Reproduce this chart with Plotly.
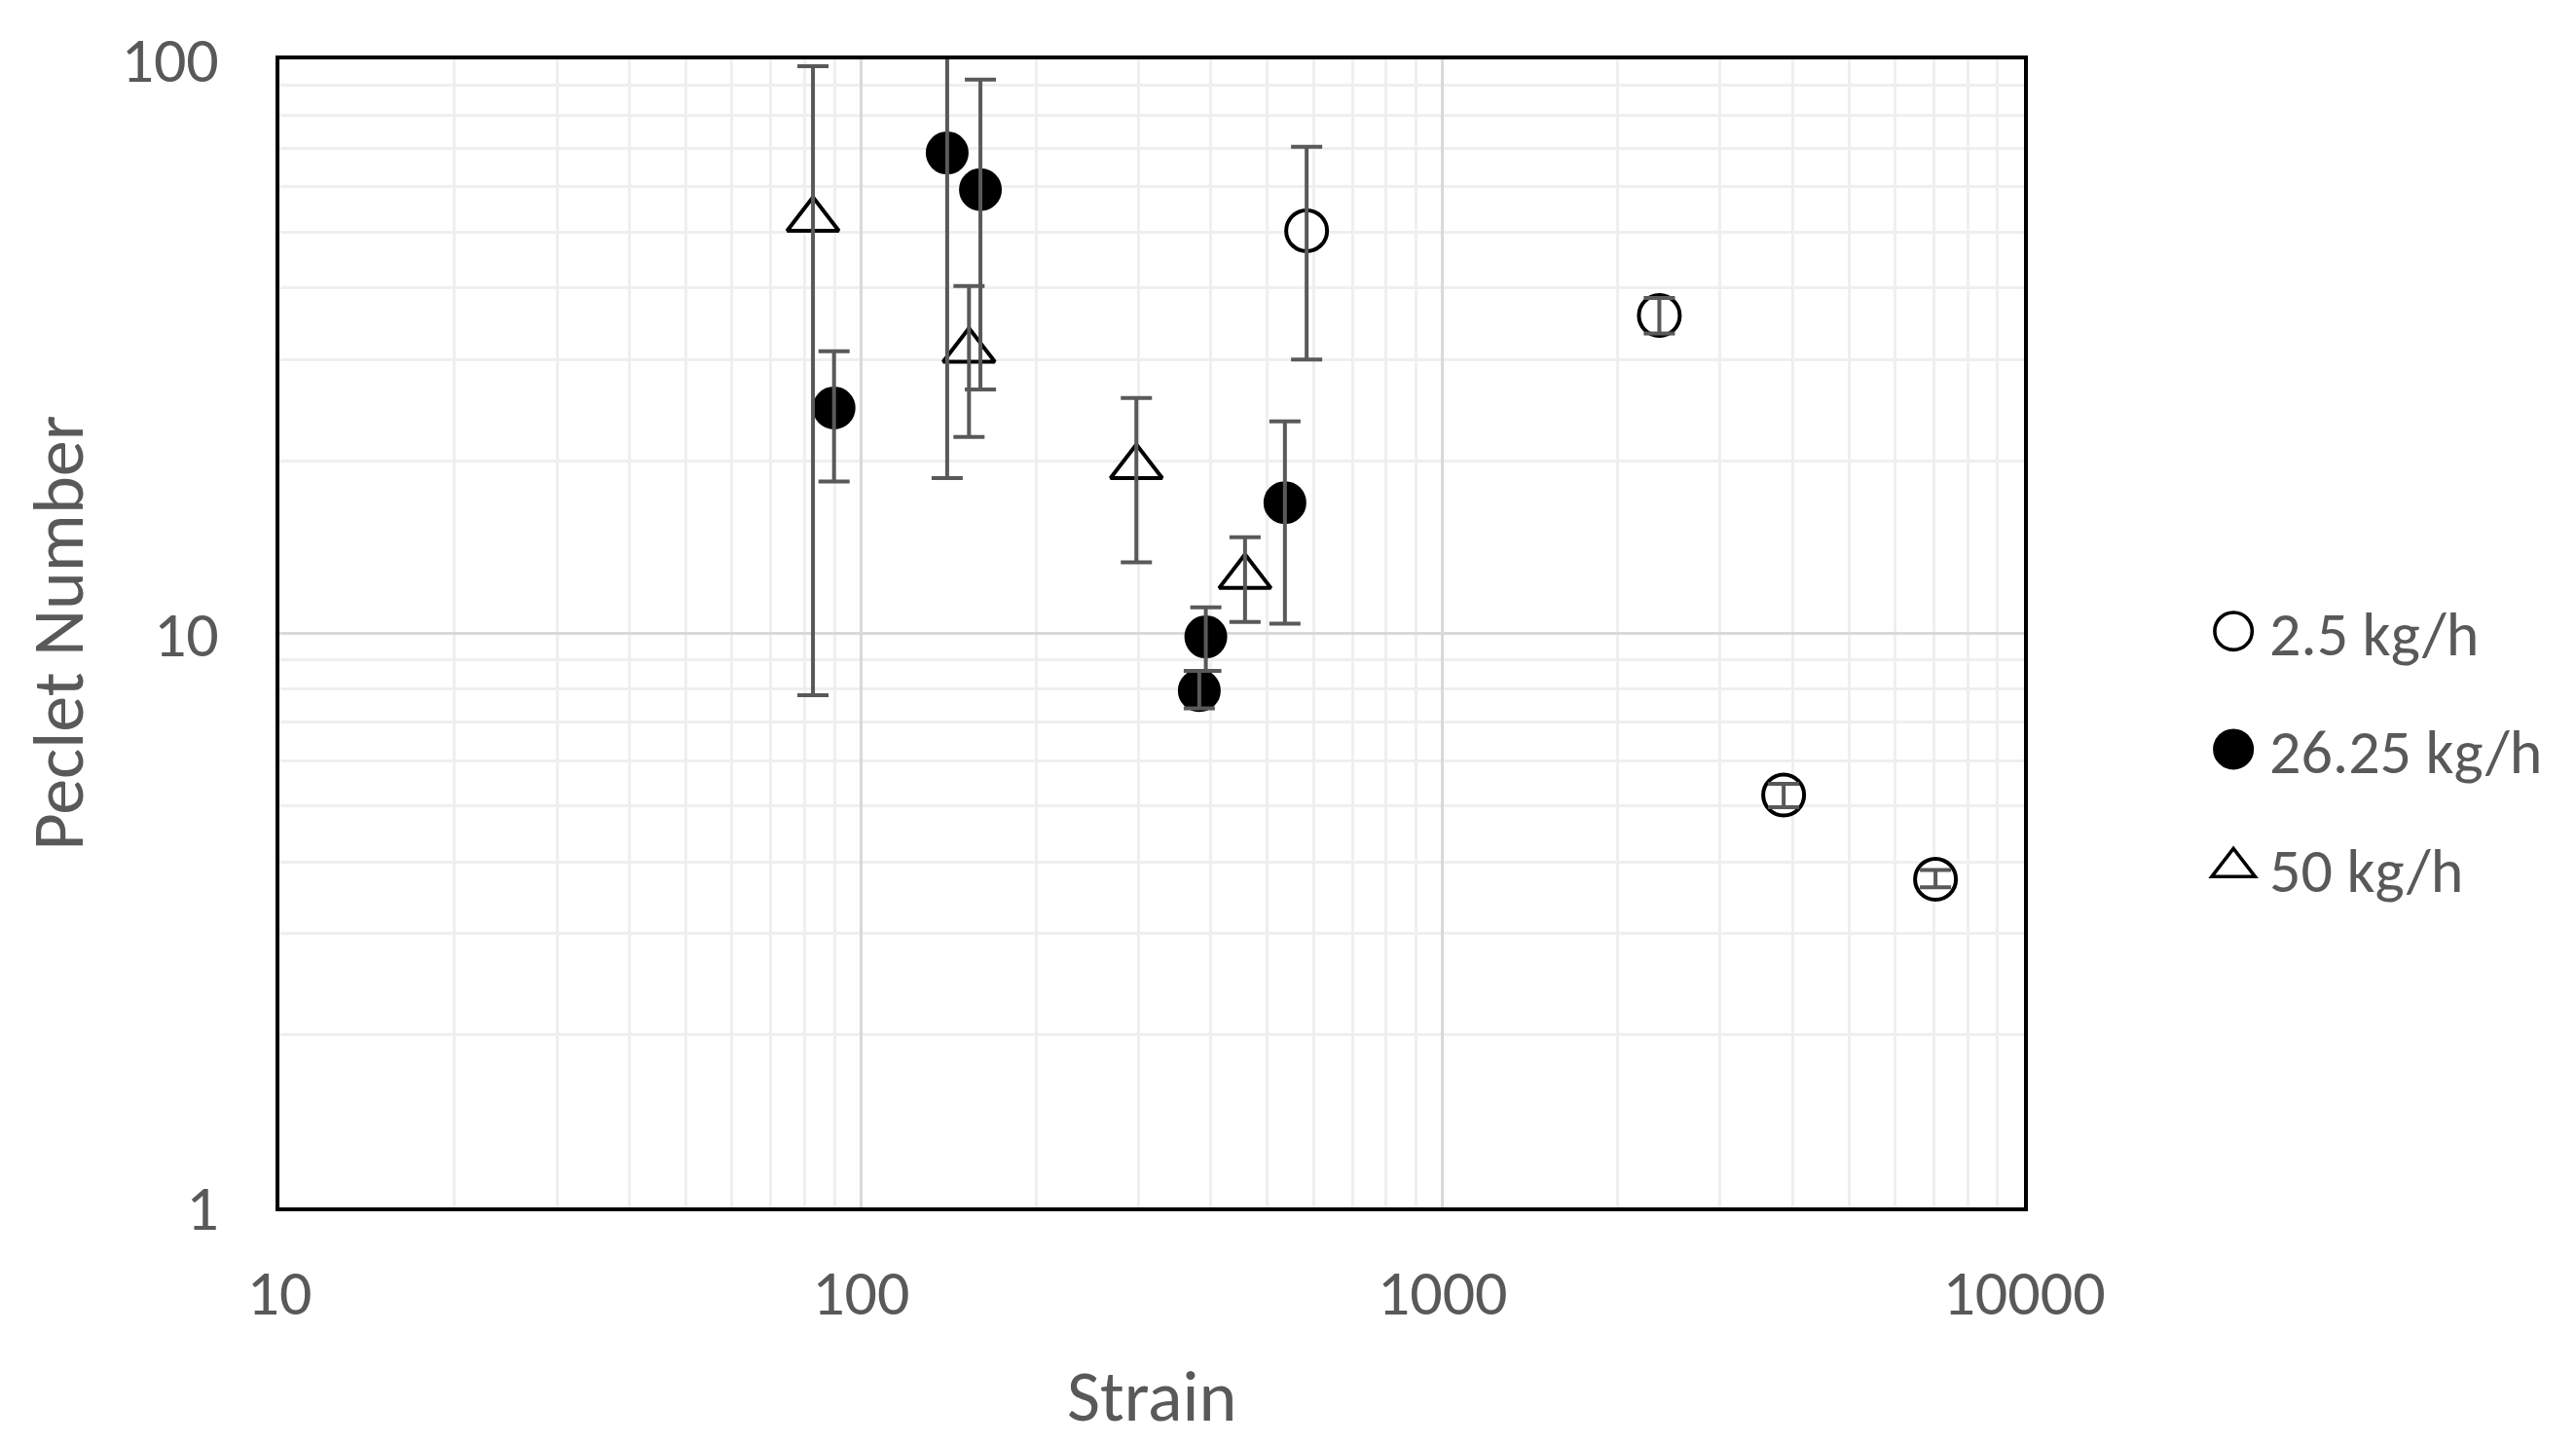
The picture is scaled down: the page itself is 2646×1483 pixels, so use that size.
import plotly.graph_objects as go

# ---- data ----
strain_25 = [584, 2360, 3861, 7044]
pe_25 = [50.3, 35.8, 5.23, 3.73]
pe_25_hi = [70.4, 38.4, 5.47, 3.87]
pe_25_lo = [30.0, 33.3, 4.98, 3.61]

strain_2625 = [89.9, 140.7, 160.5, 391.8, 381.8, 535.9]
pe_2625 = [24.7, 68.7, 59.3, 9.86, 7.95, 16.9]
pe_2625_hi = [31.0, 112.0, 92.2, 11.1, 8.6, 23.4]
pe_2625_lo = [18.4, 18.65, 26.6, 8.6, 7.40, 10.4]

strain_50 = [82.7, 153.4, 297.6, 457.6]
pe_50 = [52.6, 31.1, 19.5, 12.55]
pe_50_hi = [97.3, 40.3, 25.7, 14.7]
pe_50_lo = [7.8, 22.0, 13.3, 10.47]

series_names = ["2.5 kg/h", "26.25 kg/h", "50 kg/h"]
x_tickvals = [10, 100, 1000, 10000]
x_ticktext = ["10", "100", "1000", "10000"]
y_tickvals = [1, 10, 100]
y_ticktext = ["1", "10", "100"]

FONT = "Carlito, Lato, 'Open Sans', sans-serif"
GREY = "#595959"

series = [
    (series_names[0], strain_25, pe_25, pe_25_hi, pe_25_lo,
     dict(symbol="circle", size=42, color="white", line=dict(color="black", width=4))),
    (series_names[1], strain_2625, pe_2625, pe_2625_hi, pe_2625_lo,
     dict(symbol="circle", size=41, color="black", line=dict(color="black", width=3))),
    (series_names[2], strain_50, pe_50, pe_50_hi, pe_50_lo,
     dict(symbol="triangle-up", size=46, color="white", line=dict(color="black", width=4))),
]

fig = go.Figure()
for i, (name, xs, ys, hi, lo, mk) in enumerate(series):
    fig.add_trace(go.Scatter(
        x=xs, y=ys, mode="markers", name=name, marker=mk,
        legendgroup=f"g{i}", showlegend=True,
    ))
# error bars drawn above the markers (as in the reference)
for i, (name, xs, ys, hi, lo, mk) in enumerate(series):
    fig.add_trace(go.Scatter(
        x=xs, y=ys, mode="markers", name=name,
        marker=dict(size=2, opacity=0),
        error_y=dict(type="data", symmetric=False,
                     array=[h - v for h, v in zip(hi, ys)],
                     arrayminus=[v - l for l, v in zip(lo, ys)],
                     color=GREY, thickness=4, width=16),
        showlegend=False, legendgroup=f"g{i}", hoverinfo="skip",
    ))

axis_common = dict(
    type="log",
    showline=True, mirror=True, linecolor="black", linewidth=4,
    showgrid=True, gridcolor="#d9d9d9", gridwidth=3,
    zeroline=False, ticks="",
    tickfont=dict(family=FONT, size=66, color=GREY),
    minor=dict(dtick="D1", showgrid=True, gridcolor="#efefef", gridwidth=3, ticks=""),
)

fig.update_layout(
    width=2646, height=1483,
    margin=dict(l=287, r=567, t=61, b=243),
    paper_bgcolor="white", plot_bgcolor="white",
    xaxis=dict(range=[1, 4], tickmode="array", tickvals=x_tickvals, ticktext=x_ticktext,
               ticklabelstandoff=27, **axis_common),
    yaxis=dict(range=[0, 2], tickmode="array", tickvals=y_tickvals, ticktext=y_ticktext,
               ticklabelstandoff=45, **axis_common),
    legend=dict(
        x=1.0994, xanchor="left", y=0.399, yanchor="middle",
        font=dict(family=FONT, size=64, color=GREY),
        traceorder="grouped", tracegroupgap=35, itemwidth=64,
        bgcolor="rgba(0,0,0,0)", itemsizing="trace",
    ),
    annotations=[
        dict(text="Strain", xref="paper", yref="paper", x=0.5, y=-0.1645,
             xanchor="center", yanchor="middle", showarrow=False,
             font=dict(family=FONT, size=74, color=GREY)),
        dict(text="Peclet Number", xref="paper", yref="paper", x=-0.1272, y=0.5,
             xanchor="center", yanchor="middle", textangle=-90, showarrow=False,
             font=dict(family=FONT, size=74, color=GREY)),
    ],
)

post = """
document.body.style.margin = '0';
var pts = document.querySelectorAll('.legend .legendpoints .scatterpts');
pts.forEach(function(p){
  var t = p.getAttribute('transform') || '';
  p.setAttribute('transform', t + ' scale(2.4)');
  p.style.strokeWidth = '1.5px';
});
"""
fig.write_html("out.html", post_script=post, config={"displayModeBar": False})
